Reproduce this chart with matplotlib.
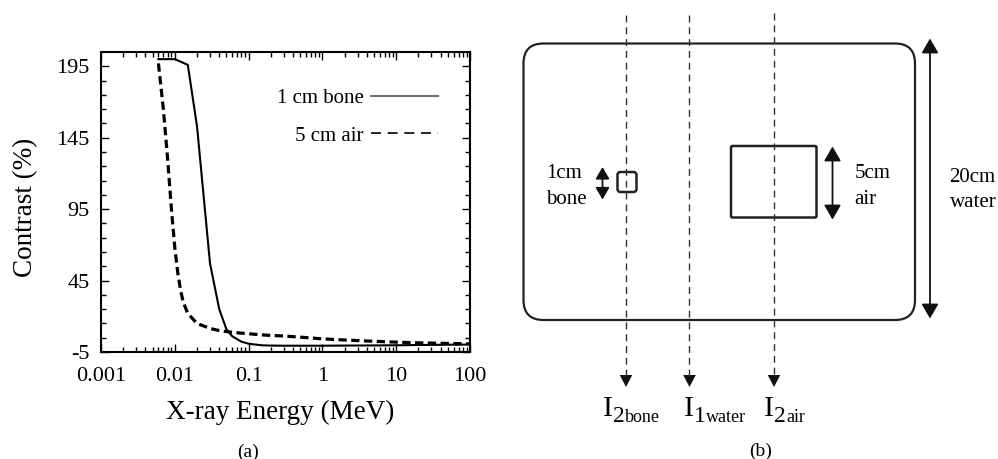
import numpy as np
import matplotlib
matplotlib.use("Agg")
import matplotlib.pyplot as plt
import matplotlib.transforms as mtransforms
from matplotlib.lines import Line2D
from matplotlib.patches import FancyBboxPatch, FancyArrowPatch, Polygon
from matplotlib.ticker import FixedLocator, LogLocator, NullFormatter, FixedFormatter

plt.rcParams['font.family'] = ['Liberation Serif', 'DejaVu Serif']
plt.rcParams['axes.unicode_minus'] = False

# ---- data (panel a) ----
energy_bone = [0.006, 0.01, 0.015, 0.02, 0.03, 0.04, 0.05, 0.06, 0.08, 0.1, 0.15,
               0.2, 0.3, 0.5, 1, 2, 5, 10, 20, 50, 100]
contrast_bone = [200, 200, 196, 153, 57, 25, 11, 6, 2.2, 0.8, -0.3,
                 -0.5, -0.6, -0.6, -0.6, -0.5, -0.4, -0.3, -0.1, 0.1, 0.2]

energy_air = [0.006, 0.007, 0.008, 0.009, 0.01, 0.011, 0.012, 0.013, 0.015, 0.02,
              0.03, 0.04, 0.05, 0.06, 0.08, 0.1, 0.15, 0.2, 0.3, 0.5, 0.8, 1, 2,
              5, 10, 20, 50, 100]
contrast_air = [197, 165, 130, 95, 68, 50, 38, 30, 22, 15,
                11.5, 10, 9.3, 8.8, 8.2, 7.8, 7.0, 6.6, 6.2, 5.4, 4.6, 4.2, 3.4,
                2.5, 1.9, 1.4, 1.0, 0.7]

series_labels = ["1 cm bone", "5 cm air"]
x_ticks = [0.001, 0.01, 0.1, 1, 10, 100]
x_ticklabels = ["0.001", "0.01", "0.1", "1", "10", "100"]
y_ticks = [-5, 45, 95, 145, 195]

W, H = 998, 459
fig = plt.figure(figsize=(W / 100, H / 100), dpi=100)

# ---- panel (a) ----
ax = fig.add_axes([101 / W, 1 - 352 / H, 369 / W, 300 / H])
ax.plot(energy_bone, contrast_bone, color='black', lw=1.5, solid_joinstyle='miter')
ax.plot(energy_air, contrast_air, color='black', lw=2.3, linestyle=(0, (2.6, 1.4)))
ax.set_xscale('log')
ax.set_xlim(0.001, 100)
ax.set_ylim(-5, 205)
ax.xaxis.set_major_locator(FixedLocator(x_ticks))
ax.xaxis.set_major_formatter(FixedFormatter(x_ticklabels))
ax.xaxis.set_minor_locator(LogLocator(base=10, subs=np.arange(2, 10), numticks=20))
ax.xaxis.set_minor_formatter(NullFormatter())
ax.yaxis.set_major_locator(FixedLocator(y_ticks))
ax.yaxis.set_minor_locator(FixedLocator(np.arange(5, 205, 10)))
ax.tick_params(which='both', direction='in', top=True, right=True, width=1.0,
               labelsize=16)
ax.tick_params(which='major', length=6)
ax.tick_params(which='minor', length=3.5)
ax.tick_params(axis='x', pad=11)
ax.tick_params(axis='y', pad=8)
for s in ax.spines.values():
    s.set_linewidth(1.5)
ax.set_xlabel("X-ray Energy (MeV)", fontsize=19.5, va='center')
ax.xaxis.set_label_coords((280.5 - 101) / 369, -(412 - 352) / 300)
ax.set_ylabel("Contrast (%)", fontsize=19.5, va='center')
ax.yaxis.set_label_coords((25.5 - 101) / 369, 1 - (207.5 - 52) / 300)

handles = [Line2D([], [], color='#707070', lw=1.5),
           Line2D([], [], color='black', lw=1.2, linestyle=(0, (6, 4)))]
ax.legend(handles, series_labels, loc='center', bbox_to_anchor=(0.695, 0.783),
          frameon=False, markerfirst=False, fontsize=15, handlelength=3.2,
          handletextpad=0.35, labelspacing=0.85, borderpad=0, borderaxespad=0)

# ---- overlay axes in pixel coordinates for labels and panel (b) ----
d = fig.add_axes([0, 0, 1, 1], zorder=-1)
d.set_xlim(0, W)
d.set_ylim(H, 0)
d.axis('off')

d.text(248, 452, "(a)", ha='center', va='center', fontsize=14)
d.text(761, 451, "(b)", ha='center', va='center', fontsize=14)

# water phantom
d.add_patch(FancyBboxPatch((523.5 + 20, 43.5 + 20), 391.5 - 40, 276.5 - 40,
                           boxstyle="round,pad=20", fill=False, lw=1.6, ec='#222222'))
# bone insert
d.add_patch(FancyBboxPatch((617.5 + 3, 172 + 3), 19 - 6, 20 - 6,
                           boxstyle="round,pad=3", fill=False, lw=1.8, ec='#222222'))
# air insert
d.add_patch(FancyBboxPatch((731 + 1.5, 146 + 1.5), 85.5 - 3, 71.5 - 3,
                           boxstyle="round,pad=1.5", fill=False, lw=1.8, ec='#222222'))

# dashed beams with arrowheads
for bx, top in [(626, 15), (689.5, 15), (774, 13)]:
    d.plot([bx, bx], [top, 376], color='#333333', lw=1.0, linestyle=(0, (5, 3.5)))
    d.add_patch(Polygon([[bx - 6.3, 375], [bx + 6.3, 375], [bx, 387]],
                        closed=True, fc='#111111', ec='none'))

# dimension arrows
def dbl(x, y0, y1, ms):
    d.add_patch(FancyArrowPatch((x, y0), (x, y1),
                                arrowstyle='<|-|>,head_length=0.55,head_width=0.32',
                                mutation_scale=ms, lw=1.3, color='#111111',
                                shrinkA=0, shrinkB=0))

dbl(602.5, 167, 199.5, 13)
dbl(832.5, 146.5, 219.5, 16)
dbl(930, 38.5, 318.5, 16)

fs = 15
d.text(546.5, 178.5, "1cm", fontsize=fs, ha='left', va='baseline')
d.text(546.5, 203.5, "bone", fontsize=fs, ha='left', va='baseline')
d.text(854.5, 178.5, "5cm", fontsize=fs, ha='left', va='baseline')
d.text(854.5, 203.5, "air", fontsize=fs, ha='left', va='baseline')
d.text(949.5, 182, "20cm", fontsize=fs, ha='left', va='baseline')
d.text(949.5, 207, "water", fontsize=fs, ha='left', va='baseline')

# detector intensity labels
blend = mtransforms.blended_transform_factory(mtransforms.IdentityTransform(), d.transData)

def ilab(x, sub1, sub2):
    t1 = d.text(x, 415.5, "I", fontsize=21.5, ha='left', va='baseline')
    fig.canvas.draw()
    r = fig.canvas.get_renderer()
    bb = t1.get_window_extent(r)
    t2 = d.text(bb.x1 + 0.5, 421.5, sub1, fontsize=17, ha='left', va='baseline',
                transform=blend)
    bb2 = t2.get_window_extent(r)
    d.text(bb2.x1 + 0.3, 422, sub2, fontsize=13, ha='left', va='baseline',
           transform=blend)

ilab(603, "2", "bone")
ilab(683.5, "1", "water")
ilab(763.5, "2", "air")

fig.savefig("out.png", dpi=100)
